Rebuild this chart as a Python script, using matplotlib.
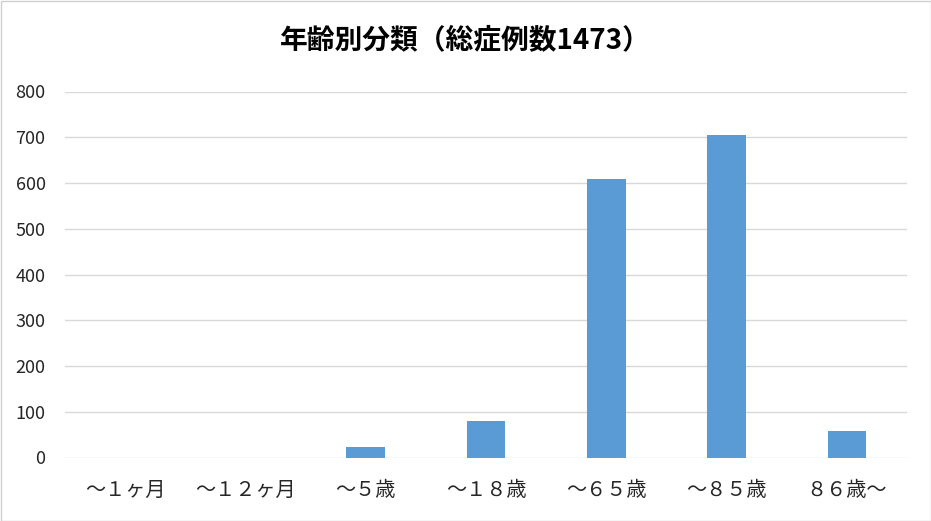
import matplotlib
matplotlib.use("Agg")
import matplotlib.pyplot as plt
from matplotlib.patches import Rectangle

plt.rcParams['font.family'] = ['Noto Sans CJK JP', 'DejaVu Sans']

categories = ["～１ヶ月", "～１２ヶ月", "～５歳", "～１８歳", "～６５歳", "～８５歳", "８６歳～"]
values = [0, 0, 23, 80, 608, 704, 58]
yticks = [0, 100, 200, 300, 400, 500, 600, 700, 800]
title = "年齢別分類（総症例数1473）"

fig = plt.figure(figsize=(9.31, 5.21), dpi=100)
ax = fig.add_axes([65/931, 1-457.5/521, (907-65)/931, (457.5-91.5)/521])

x = list(range(len(categories)))
ax.bar(x, values, width=0.32, color="#5B9BD5", zorder=3)
ax.set_xlim(-0.5, len(categories)-0.5)
ax.set_ylim(0, 800)
ax.set_yticks(yticks)
ax.set_yticklabels([str(v) for v in yticks], fontsize=13, color="#262626")
ax.set_xticks(x)
ax.set_xticklabels(categories, fontsize=14.5, color="#262626")
ax.tick_params(axis='both', length=0)
ax.tick_params(axis='y', pad=14)
ax.tick_params(axis='x', pad=16)
ax.grid(axis='y', color="#d9d9d9", linewidth=1, zorder=0)
for s in ax.spines.values():
    s.set_visible(False)

fig.text(0.5, 1-40/521, title, ha='center', va='center', fontsize=20,
         fontweight='bold', color="#000000")

fig.patches.append(Rectangle((0.5/931, 0.5/521), 1-1/931, 1-1/521, transform=fig.transFigure,
                             fill=False, edgecolor="#d0d0d0", linewidth=1))

fig.savefig("out.png", dpi=100)
